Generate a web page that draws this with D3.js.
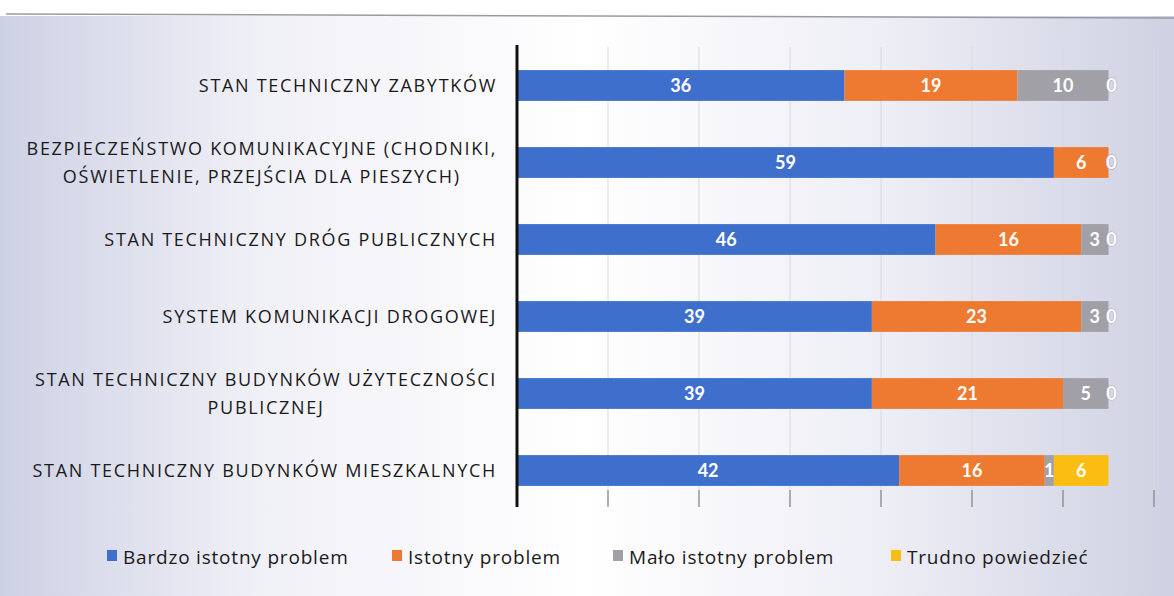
<!DOCTYPE html>
<html>
<head>
<meta charset="utf-8">
<script src="https://cdn.jsdelivr.net/npm/d3@7"></script>
<style>
  body { margin: 0; background: #fff; }
  svg { display: block; }
</style>
</head>
<body>
<div id="chart"></div>
<script>
// categories, top to bottom (each entry = label lines)
const categories = [
  ["STAN TECHNICZNY ZABYTKÓW"],
  ["BEZPIECZEŃSTWO KOMUNIKACYJNE (CHODNIKI,", "OŚWIETLENIE, PRZEJŚCIA DLA PIESZYCH)"],
  ["STAN TECHNICZNY DRÓG PUBLICZNYCH"],
  ["SYSTEM KOMUNIKACJI DROGOWEJ"],
  ["STAN TECHNICZNY BUDYNKÓW UŻYTECZNOŚCI", "PUBLICZNEJ"],
  ["STAN TECHNICZNY BUDYNKÓW MIESZKALNYCH"]
];
const seriesNames = ["Bardzo istotny problem", "Istotny problem", "Mało istotny problem", "Trudno powiedzieć"];
const bardzo = [36, 59, 46, 39, 39, 42];
const istotny = [19, 6, 16, 23, 21, 16];
const malo = [10, 0, 3, 3, 5, 1];
const trudno = [0, 0, 0, 0, 0, 6];
const xTicks = [0, 10, 20, 30, 40, 50, 60, 70];
const colors = ["#3f6fcd", "#ee7a32", "#a0a0a6", "#fbbd12"];

const W = 1174, H = 596;
const svg = d3.select('#chart').append('svg')
  .attr('width', W).attr('height', H);

// scanned-page background tint
const defs = svg.append('defs');
const grad = defs.append('linearGradient').attr('id', 'bg');
grad.append('stop').attr('offset', '0%').attr('stop-color', '#cdd1e4');
grad.append('stop').attr('offset', '22%').attr('stop-color', '#f0f0f7');
grad.append('stop').attr('offset', '50%').attr('stop-color', '#ffffff');
grad.append('stop').attr('offset', '75%').attr('stop-color', '#eeeef6');
grad.append('stop').attr('offset', '100%').attr('stop-color', '#cfd1e2');
svg.append('rect').attr('width', W).attr('height', H).attr('fill', '#fff');
svg.append('rect').attr('x', 0).attr('y', 16).attr('width', W).attr('height', H - 16).attr('fill', 'url(#bg)');
svg.append('line').attr('x1', 6).attr('x2', W).attr('y1', 14).attr('y2', 18)
  .attr('stroke', '#9a9aa2').attr('stroke-width', 1.5);

const x = d3.scaleLinear().domain([0, 70]).range([517, 1154]);
const y = d3.scaleBand().domain(d3.range(categories.length))
  .range([47, 509]).paddingInner(0.6).paddingOuter(0.3);

// gridlines + bottom tick marks
const gridG = svg.append('g');
gridG.selectAll('line.grid').data(xTicks.slice(1)).join('line')
  .attr('class', 'grid')
  .attr('x1', d => x(d)).attr('x2', d => x(d))
  .attr('y1', 47).attr('y2', 490)
  .attr('stroke', '#d8d8e2').attr('stroke-width', 1);
gridG.selectAll('line.tick').data(xTicks.slice(1)).join('line')
  .attr('class', 'tick')
  .attr('x1', d => x(d)).attr('x2', d => x(d))
  .attr('y1', 490).attr('y2', 507)
  .attr('stroke', '#85858c').attr('stroke-width', 1.3);

// stacked data
const table = categories.map((c, i) => ({ i, vals: [bardzo[i], istotny[i], malo[i], trudno[i]] }));
const stack = d3.stack().keys([0, 1, 2, 3]).value((d, k) => d.vals[k]);
const layers = stack(table);

const barsG = svg.append('g');
layers.forEach((layer, k) => {
  barsG.selectAll('rect.s' + k).data(layer).join('rect')
    .attr('class', 's' + k)
    .attr('x', d => x(d[0]))
    .attr('y', d => y(d.data.i))
    .attr('width', d => x(d[1]) - x(d[0]))
    .attr('height', y.bandwidth())
    .attr('fill', colors[k]);
});

// segment labels
layers.forEach((layer, k) => {
  barsG.selectAll('text.l' + k).data(layer).join('text')
    .attr('class', 'l' + k)
    .attr('x', d => (x(d[0]) + x(d[1])) / 2 + (d[1] - d[0] === 0 ? 3 : 0))
    .attr('y', d => y(d.data.i) + y.bandwidth() / 2)
    .attr('dy', '0.36em')
    .attr('text-anchor', 'middle')
    .attr('font-family', 'Lato, "Open Sans", sans-serif')
    .attr('font-weight', 'bold')
    .attr('font-size', 18)
    .attr('fill', '#fff')
    .attr('stroke', d => (d[1] - d[0] === 0 ? '#a8a8b6' : 'none'))
    .attr('stroke-width', 1)
    .attr('paint-order', 'stroke')
    .text(d => d[1] - d[0]);
});

// vertical axis line
svg.append('line')
  .attr('x1', 517).attr('x2', 517).attr('y1', 45).attr('y2', 507)
  .attr('stroke', '#111').attr('stroke-width', 3);

// category labels
const labG = svg.append('g')
  .attr('font-family', '"Open Sans", sans-serif')
  .attr('font-size', 18)
  .attr('letter-spacing', 1.7)
  .attr('fill', '#1a1a1a');
categories.forEach((lines, i) => {
  const cy = y(i) + y.bandwidth() / 2;
  const lh = 28;
  const g = labG.append('g');
  const texts = lines.map((t, j) => g.append('text')
    .attr('y', cy + (j - (lines.length - 1) / 2) * lh)
    .attr('dy', '0.36em')
    .text(t));
  const maxW = d3.max(texts, t => t.node().getComputedTextLength());
  texts.forEach(t => t.attr('x', 497 - maxW / 2).attr('text-anchor', 'middle'));
});

// legend
const legendX = [107, 392, 613, 891];
const legG = svg.append('g')
  .attr('font-family', '"Open Sans", sans-serif')
  .attr('font-size', 19)
  .attr('letter-spacing', 0.8)
  .attr('fill', '#1a1a1a');
seriesNames.forEach((name, k) => {
  legG.append('rect')
    .attr('x', legendX[k]).attr('y', 550)
    .attr('width', 10).attr('height', 11)
    .attr('fill', colors[k]);
  legG.append('text')
    .attr('x', legendX[k] + 16).attr('y', 557)
    .attr('dy', '0.36em')
    .text(name);
});
</script>
</body>
</html>
